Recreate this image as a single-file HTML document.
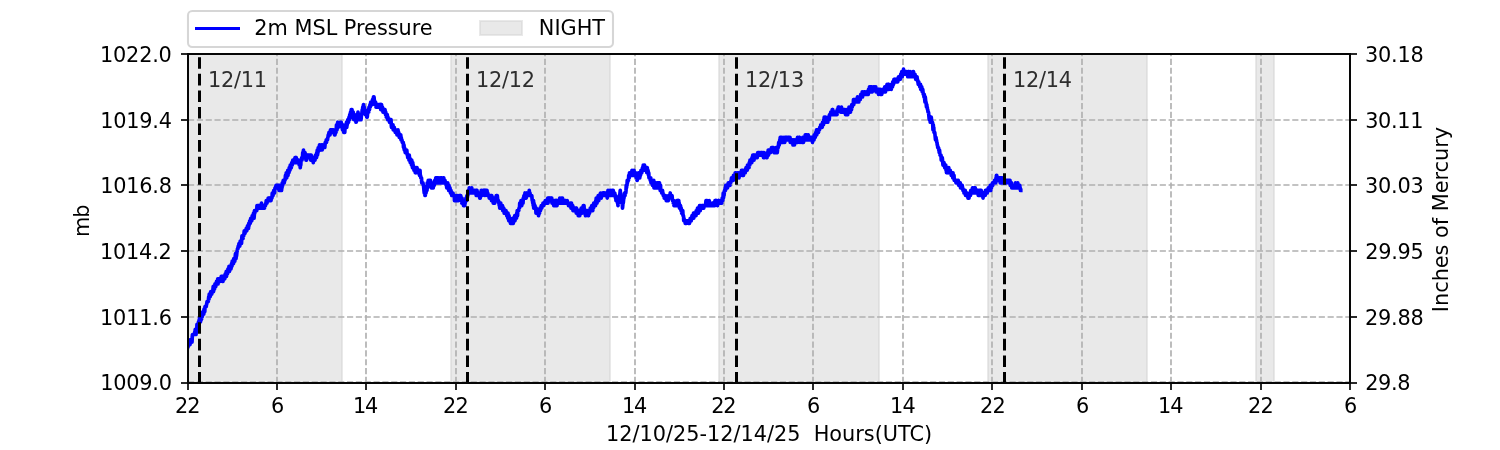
<!DOCTYPE html>
<html lang="en"><head><meta charset="utf-8"><title>2m MSL Pressure</title>
<style>html,body{margin:0;padding:0;background:#fff}body{width:1500px;height:450px;overflow:hidden}svg{display:block;will-change:transform}svg text{white-space:pre;font-family:"DejaVu Sans","Liberation Sans",sans-serif;font-size:20.833px}</style></head>
<body>
<svg width="1500" height="450" viewBox="0 0 1500 450" role="img" aria-label="2m MSL Pressure chart">
<defs><clipPath id="ax"><rect x="187.50" y="54.00" width="1162.50" height="328.50"/></clipPath></defs>
<rect width="1500" height="450" fill="#fff"/>
<g clip-path="url(#ax)">
<rect x="180" y="50" width="162" height="340" fill="#d3d3d3" fill-opacity="0.5"/>
<rect x="179" y="50" width="2" height="340" fill="#d3d3d3" fill-opacity="0.5"/>
<rect x="341" y="50" width="2" height="340" fill="#d3d3d3" fill-opacity="0.5"/>
<rect x="451" y="50" width="159" height="340" fill="#d3d3d3" fill-opacity="0.5"/>
<rect x="450" y="50" width="2" height="340" fill="#d3d3d3" fill-opacity="0.5"/>
<rect x="609" y="50" width="2" height="340" fill="#d3d3d3" fill-opacity="0.5"/>
<rect x="719" y="50" width="160" height="340" fill="#d3d3d3" fill-opacity="0.5"/>
<rect x="718" y="50" width="2" height="340" fill="#d3d3d3" fill-opacity="0.5"/>
<rect x="878" y="50" width="2" height="340" fill="#d3d3d3" fill-opacity="0.5"/>
<rect x="988" y="50" width="159" height="340" fill="#d3d3d3" fill-opacity="0.5"/>
<rect x="987" y="50" width="2" height="340" fill="#d3d3d3" fill-opacity="0.5"/>
<rect x="1146" y="50" width="2" height="340" fill="#d3d3d3" fill-opacity="0.5"/>
<rect x="1256" y="50" width="18" height="340" fill="#d3d3d3" fill-opacity="0.5"/>
<rect x="1255" y="50" width="2" height="340" fill="#d3d3d3" fill-opacity="0.5"/>
<rect x="1273" y="50" width="2" height="340" fill="#d3d3d3" fill-opacity="0.5"/>
</g>
<g stroke="#b0b0b0" stroke-width="1.667" stroke-dasharray="6.167 2.667" fill="none">
<path d="M188,383.0V54.0"/>
<path d="M277,383.0V54.0"/>
<path d="M366,383.0V54.0"/>
<path d="M456,383.0V54.0"/>
<path d="M545,383.0V54.0"/>
<path d="M635,383.0V54.0"/>
<path d="M724,383.0V54.0"/>
<path d="M813,383.0V54.0"/>
<path d="M903,383.0V54.0"/>
<path d="M992,383.0V54.0"/>
<path d="M1082,383.0V54.0"/>
<path d="M1171,383.0V54.0"/>
<path d="M1261,383.0V54.0"/>
<path d="M1350,383.0V54.0"/>
<path d="M188.0,382H1350.0"/>
<path d="M188.0,317H1350.0"/>
<path d="M188.0,251H1350.0"/>
<path d="M188.0,185H1350.0"/>
<path d="M188.0,120H1350.0"/>
<path d="M188.0,54H1350.0"/>
</g>
<g clip-path="url(#ax)"><path d="M187.50,347.12 187.75,344.60 188.00,347.12 188.25,344.60 188.75,344.60 189.00,342.07 189.75,342.07 190.00,344.60 190.25,342.07 190.50,339.54 190.75,342.07 191.25,342.07 191.50,339.54 191.75,342.07 192.00,342.07 192.25,337.02 192.50,334.49 194.50,334.49 194.75,331.96 195.00,331.96 195.25,329.43 195.50,331.96 195.75,331.96 196.00,334.49 196.25,331.96 196.50,331.96 196.75,329.43 197.00,324.38 197.25,329.43 197.50,329.43 197.75,324.38 198.00,326.91 198.25,326.91 198.50,321.85 198.75,324.38 199.00,321.85 199.25,319.33 199.50,319.33 199.75,316.80 200.00,319.33 200.25,321.85 200.50,321.85 200.75,316.80 201.00,316.80 201.25,319.33 201.50,319.33 201.75,316.80 202.25,316.80 202.50,314.27 202.75,311.75 203.00,314.27 203.25,311.75 203.50,311.75 203.75,314.27 204.00,309.22 204.50,309.22 204.75,311.75 205.00,306.69 206.25,306.69 206.50,304.17 206.75,304.17 207.00,301.64 208.25,301.64 208.50,299.11 208.75,296.58 209.00,299.11 209.25,294.06 209.75,294.06 210.00,296.58 210.25,296.58 210.50,294.06 210.75,291.53 211.50,291.53 211.75,294.06 212.00,291.53 212.75,291.53 213.00,289.00 213.25,286.48 213.50,291.53 213.75,289.00 214.50,289.00 214.75,286.48 215.00,283.95 215.25,286.48 215.50,283.95 215.75,286.48 216.00,283.95 216.25,283.95 216.50,281.42 216.75,283.95 217.00,281.42 217.25,281.42 217.50,283.95 217.75,278.90 218.00,283.95 218.25,281.42 218.50,278.90 218.75,281.42 219.00,281.42 219.25,278.90 219.75,278.90 220.00,281.42 220.25,278.90 221.00,278.90 221.25,276.37 221.50,278.90 222.25,278.90 222.50,281.42 222.75,276.37 223.00,281.42 223.25,276.37 223.50,278.90 223.75,276.37 224.00,278.90 224.25,276.37 224.50,278.90 224.75,278.90 225.00,276.37 225.25,273.84 225.50,276.37 225.75,273.84 226.00,273.84 226.25,271.32 226.50,276.37 226.75,271.32 227.25,271.32 227.50,273.84 227.75,271.32 228.00,268.79 228.25,268.79 228.50,271.32 228.75,271.32 229.00,266.26 229.25,268.79 229.50,271.32 229.75,268.79 230.25,268.79 230.50,266.26 230.75,266.26 231.00,268.79 231.25,266.26 231.50,263.73 231.75,266.26 232.00,266.26 232.25,261.21 232.50,263.73 232.75,263.73 233.00,261.21 233.25,263.73 233.50,263.73 233.75,258.68 234.00,258.68 234.25,261.21 234.50,258.68 234.75,261.21 235.00,258.68 235.25,256.15 235.50,253.63 235.75,256.15 236.00,258.68 236.25,256.15 236.50,256.15 236.75,253.63 237.00,251.10 237.25,251.10 237.50,248.57 238.00,248.57 238.25,246.05 238.75,246.05 239.00,243.52 239.25,246.05 239.50,243.52 239.75,246.05 240.00,243.52 240.25,240.99 241.25,240.99 241.50,243.52 241.75,238.47 242.00,235.94 242.25,238.47 242.50,235.94 242.75,235.94 243.00,238.47 243.25,235.94 243.75,235.94 244.00,233.41 244.25,230.88 244.50,233.41 244.75,230.88 245.00,233.41 245.25,230.88 246.00,230.88 246.25,228.36 246.50,230.88 246.75,230.88 247.00,228.36 247.25,228.36 247.50,225.83 247.75,228.36 248.00,228.36 248.25,225.83 248.50,228.36 248.75,223.30 249.00,225.83 249.25,223.30 249.50,223.30 249.75,220.78 250.00,223.30 250.25,223.30 250.50,220.78 250.75,218.25 251.00,218.25 251.25,220.78 251.75,220.78 252.00,218.25 252.25,215.72 252.75,215.72 253.00,218.25 253.25,215.72 253.50,213.20 253.75,218.25 254.00,218.25 254.25,215.72 254.50,210.67 254.75,213.20 255.00,210.67 256.75,210.67 257.00,205.62 257.25,205.62 257.50,208.14 257.75,208.14 258.00,205.62 258.50,205.62 258.75,208.14 259.00,205.62 259.50,205.62 259.75,208.14 260.00,205.62 260.25,208.14 260.50,205.62 261.00,205.62 261.25,208.14 261.50,203.09 261.75,205.62 262.50,205.62 262.75,208.14 263.00,208.14 263.25,205.62 263.50,208.14 263.75,208.14 264.00,205.62 264.25,208.14 264.50,208.14 264.75,205.62 265.50,205.62 265.75,203.09 266.00,203.09 266.25,200.56 266.50,203.09 266.75,200.56 267.00,203.09 267.25,200.56 268.00,200.56 268.25,198.03 268.50,200.56 268.75,200.56 269.00,198.03 269.25,200.56 269.50,198.03 269.75,198.03 270.00,200.56 270.25,198.03 270.50,200.56 271.00,200.56 271.25,198.03 272.00,198.03 272.25,192.98 272.75,192.98 273.00,195.51 273.25,192.98 273.50,192.98 273.75,190.45 274.00,190.45 274.25,192.98 274.50,192.98 274.75,190.45 275.00,187.93 275.75,187.93 276.00,185.40 276.50,185.40 276.75,187.93 277.00,187.93 277.25,185.40 277.50,187.93 277.75,187.93 278.00,185.40 278.25,185.40 278.50,187.93 278.75,185.40 279.00,190.45 279.25,187.93 279.50,185.40 279.75,185.40 280.00,187.93 280.25,190.45 280.50,187.93 280.75,190.45 281.00,190.45 281.25,185.40 281.50,190.45 281.75,187.93 282.00,187.93 282.25,182.87 282.50,182.87 282.75,185.40 283.00,182.87 283.25,180.35 283.50,182.87 283.75,182.87 284.00,180.35 284.25,182.87 284.50,180.35 285.00,180.35 285.25,177.82 285.50,175.29 285.75,177.82 286.00,177.82 286.25,172.77 286.50,177.82 286.75,177.82 287.00,175.29 287.50,175.29 287.75,170.24 288.00,175.29 288.25,170.24 288.50,170.24 288.75,172.77 289.00,172.77 289.25,167.71 289.50,167.71 289.75,170.24 290.00,170.24 290.25,165.18 291.00,165.18 291.25,167.71 291.50,165.18 291.75,162.66 292.00,165.18 292.25,165.18 292.50,162.66 292.75,160.13 293.00,160.13 293.25,162.66 293.50,162.66 293.75,160.13 294.00,162.66 294.50,162.66 294.75,160.13 295.00,157.60 295.25,157.60 295.50,160.13 295.75,157.60 296.00,160.13 296.25,157.60 296.50,160.13 296.75,162.66 298.00,162.66 298.25,160.13 298.75,160.13 299.00,162.66 299.25,165.18 299.50,165.18 299.75,162.66 300.00,165.18 300.25,167.71 300.50,162.66 300.75,165.18 301.00,160.13 301.50,160.13 301.75,157.60 302.00,160.13 302.25,157.60 302.50,157.60 302.75,152.55 303.00,157.60 303.25,152.55 303.50,150.02 303.75,155.08 304.00,152.55 304.25,152.55 304.50,155.08 304.75,152.55 305.00,152.55 305.25,155.08 305.75,155.08 306.00,160.13 306.25,155.08 306.50,160.13 306.75,155.08 307.00,155.08 307.25,157.60 307.50,155.08 307.75,157.60 308.00,157.60 308.25,155.08 308.50,155.08 308.75,157.60 309.00,155.08 309.50,155.08 309.75,157.60 310.00,157.60 310.25,155.08 310.50,155.08 310.75,160.13 311.00,155.08 311.25,155.08 311.50,157.60 311.75,157.60 312.00,160.13 312.25,157.60 312.50,160.13 312.75,157.60 313.00,160.13 313.25,162.66 313.50,157.60 313.75,157.60 314.00,160.13 314.50,160.13 314.75,157.60 315.00,160.13 315.25,157.60 315.50,155.08 315.75,157.60 316.50,157.60 316.75,152.55 317.00,155.08 317.25,150.02 317.50,155.08 317.75,152.55 318.00,152.55 318.25,147.50 318.50,147.50 318.75,150.02 319.00,150.02 319.25,147.50 319.50,144.97 320.00,144.97 320.25,147.50 320.75,147.50 321.00,150.02 321.25,144.97 321.50,144.97 321.75,147.50 322.00,150.02 322.25,150.02 322.50,144.97 322.75,144.97 323.00,147.50 323.50,147.50 323.75,144.97 324.00,144.97 324.25,147.50 324.50,144.97 324.75,147.50 325.00,144.97 325.25,142.44 326.00,142.44 326.25,139.92 326.50,142.44 326.75,139.92 327.50,139.92 327.75,137.39 328.00,137.39 328.25,134.86 328.75,134.86 329.00,132.33 329.25,134.86 329.50,132.33 329.75,132.33 330.00,134.86 330.25,132.33 330.50,129.81 330.75,132.33 331.00,129.81 331.25,132.33 331.50,129.81 331.75,129.81 332.00,132.33 332.25,129.81 332.50,132.33 333.00,132.33 333.25,129.81 333.50,129.81 333.75,132.33 334.25,132.33 334.50,134.86 334.75,129.81 335.00,134.86 335.25,132.33 335.50,132.33 335.75,129.81 336.00,132.33 336.25,129.81 336.50,124.75 336.75,124.75 337.00,129.81 337.25,124.75 337.50,124.75 337.75,122.23 338.00,127.28 338.25,127.28 338.50,124.75 339.75,124.75 340.00,122.23 340.75,122.23 341.00,124.75 341.25,122.23 341.50,124.75 341.75,127.28 342.00,124.75 342.25,127.28 342.50,129.81 342.75,127.28 343.00,124.75 343.25,129.81 343.50,129.81 343.75,132.33 344.00,129.81 344.50,129.81 344.75,132.33 345.00,127.28 345.50,127.28 345.75,124.75 346.25,124.75 346.50,122.23 346.75,127.28 347.00,124.75 347.25,124.75 347.50,122.23 347.75,119.70 348.25,119.70 348.50,122.23 348.75,119.70 349.00,117.17 349.25,119.70 349.50,119.70 349.75,114.65 350.00,117.17 350.25,117.17 350.50,112.12 350.75,112.12 351.00,117.17 351.25,109.59 351.50,112.12 351.75,114.65 352.00,109.59 352.25,114.65 352.50,112.12 352.75,112.12 353.00,117.17 353.25,112.12 353.50,114.65 353.75,119.70 354.00,117.17 354.25,119.70 354.50,114.65 354.75,117.17 355.00,119.70 355.25,117.17 355.50,117.17 355.75,119.70 356.00,122.23 356.25,122.23 356.50,117.17 357.25,117.17 357.50,114.65 357.75,117.17 358.00,112.12 358.25,114.65 358.75,114.65 359.00,117.17 359.25,119.70 359.50,117.17 360.00,117.17 360.25,114.65 360.50,114.65 360.75,117.17 361.00,119.70 361.25,117.17 361.50,114.65 361.75,114.65 362.00,112.12 362.25,109.59 362.50,112.12 362.75,107.07 363.00,109.59 363.25,107.07 363.50,104.54 363.75,107.07 364.25,107.07 364.50,112.12 364.75,109.59 365.00,112.12 365.25,114.65 365.75,114.65 366.00,112.12 366.25,114.65 366.50,114.65 366.75,117.17 367.00,114.65 367.25,117.17 367.50,114.65 367.75,112.12 368.00,112.12 368.25,109.59 368.50,112.12 368.75,112.12 369.00,107.07 369.25,107.07 369.50,109.59 369.75,107.07 370.00,104.54 370.25,107.07 370.50,104.54 370.75,102.01 371.00,102.01 371.25,104.54 371.75,104.54 372.00,102.01 372.25,104.54 372.50,99.48 372.75,102.01 373.00,99.48 373.25,99.48 373.50,96.96 374.00,96.96 374.25,99.48 374.50,102.01 375.00,102.01 375.25,104.54 375.50,102.01 375.75,104.54 376.00,107.07 376.25,104.54 376.50,104.54 376.75,107.07 377.00,107.07 377.25,104.54 377.50,104.54 377.75,107.07 378.00,104.54 378.25,104.54 378.50,107.07 378.75,107.07 379.00,104.54 379.50,104.54 379.75,107.07 380.00,104.54 380.25,107.07 380.50,104.54 380.75,109.59 381.00,104.54 381.25,107.07 381.50,104.54 381.75,107.07 382.00,109.59 382.25,107.07 382.50,107.07 382.75,109.59 383.00,112.12 383.25,109.59 383.75,109.59 384.00,112.12 384.25,112.12 384.50,109.59 384.75,112.12 385.00,109.59 385.25,112.12 385.50,114.65 385.75,112.12 386.00,114.65 386.25,117.17 386.50,114.65 386.75,114.65 387.00,117.17 387.25,114.65 387.50,117.17 387.75,119.70 388.00,117.17 388.25,119.70 389.25,119.70 389.50,122.23 389.75,119.70 390.00,122.23 390.25,122.23 390.50,119.70 390.75,122.23 391.00,119.70 391.25,124.75 391.50,127.28 391.75,124.75 392.00,124.75 392.25,127.28 392.50,124.75 392.75,127.28 393.00,124.75 393.25,129.81 394.00,129.81 394.25,127.28 394.50,129.81 395.00,129.81 395.25,132.33 395.50,129.81 396.00,129.81 396.25,132.33 396.75,132.33 397.00,134.86 397.25,132.33 397.75,132.33 398.00,129.81 398.25,132.33 398.75,132.33 399.00,134.86 399.25,137.39 399.50,134.86 400.75,134.86 401.00,139.92 401.25,137.39 401.50,139.92 402.00,139.92 402.25,142.44 403.25,142.44 403.50,147.50 403.75,144.97 404.00,144.97 404.25,150.02 404.50,147.50 404.75,150.02 405.00,150.02 405.25,152.55 405.50,150.02 406.75,150.02 407.00,152.55 407.25,155.08 407.50,155.08 407.75,157.60 408.00,155.08 408.25,157.60 408.50,155.08 408.75,155.08 409.00,160.13 409.25,155.08 409.50,160.13 409.75,157.60 410.00,160.13 410.25,162.66 410.50,160.13 410.75,162.66 411.00,162.66 411.25,160.13 411.50,165.18 411.75,160.13 412.00,162.66 412.25,165.18 412.50,167.71 412.75,162.66 413.00,167.71 413.25,165.18 413.50,167.71 413.75,167.71 414.00,170.24 414.25,167.71 414.50,170.24 414.75,167.71 415.00,167.71 415.25,172.77 415.50,170.24 415.75,172.77 416.00,167.71 416.25,172.77 416.75,172.77 417.00,167.71 417.25,170.24 417.75,170.24 418.00,172.77 418.25,172.77 418.50,170.24 418.75,172.77 419.00,170.24 419.25,170.24 419.50,175.29 419.75,170.24 420.00,170.24 420.25,175.29 420.50,175.29 420.75,177.82 421.50,177.82 421.75,182.87 423.00,182.87 423.25,185.40 423.50,185.40 423.75,187.93 424.00,190.45 424.25,192.98 424.50,190.45 424.75,192.98 425.00,195.51 425.25,195.51 425.50,192.98 426.00,192.98 426.25,190.45 427.00,190.45 427.25,182.87 427.50,187.93 427.75,182.87 428.00,185.40 428.25,180.35 428.50,182.87 429.25,182.87 429.50,180.35 429.75,182.87 430.00,185.40 430.25,180.35 430.50,180.35 430.75,182.87 431.00,185.40 431.25,187.93 431.50,187.93 431.75,185.40 432.00,187.93 432.25,182.87 432.50,185.40 432.75,187.93 433.00,185.40 433.25,187.93 433.50,182.87 433.75,185.40 434.00,182.87 434.25,185.40 434.50,182.87 434.75,180.35 435.00,182.87 435.25,182.87 435.50,180.35 435.75,177.82 436.00,180.35 436.25,177.82 436.75,177.82 437.00,182.87 437.25,177.82 437.50,180.35 437.75,180.35 438.00,177.82 438.25,182.87 438.50,180.35 438.75,180.35 439.00,177.82 439.25,177.82 439.50,180.35 439.75,180.35 440.00,182.87 440.25,180.35 440.50,177.82 441.00,177.82 441.25,180.35 441.50,177.82 442.00,177.82 442.25,182.87 442.50,180.35 442.75,180.35 443.00,182.87 443.25,177.82 443.50,182.87 443.75,177.82 444.00,182.87 444.75,182.87 445.00,180.35 445.25,182.87 446.00,182.87 446.25,185.40 446.50,185.40 446.75,187.93 447.00,185.40 447.25,185.40 447.50,187.93 447.75,182.87 448.00,185.40 448.25,187.93 448.50,187.93 448.75,190.45 449.00,185.40 449.25,187.93 449.50,187.93 449.75,190.45 450.00,187.93 450.25,190.45 450.50,192.98 450.75,190.45 451.00,190.45 451.25,192.98 451.50,192.98 451.75,195.51 452.00,192.98 452.25,192.98 452.50,195.51 452.75,192.98 453.00,192.98 453.25,195.51 454.25,195.51 454.50,200.56 454.75,198.03 455.00,200.56 455.25,198.03 455.50,200.56 455.75,198.03 456.00,195.51 456.25,195.51 456.50,200.56 456.75,198.03 457.00,200.56 457.25,195.51 457.50,200.56 457.75,200.56 458.00,198.03 458.25,200.56 458.50,198.03 458.75,198.03 459.00,195.51 459.25,195.51 459.50,198.03 459.75,198.03 460.00,195.51 460.25,198.03 460.50,195.51 460.75,195.51 461.00,200.56 461.25,200.56 461.50,198.03 461.75,203.09 462.00,198.03 462.25,200.56 462.75,200.56 463.00,203.09 463.25,203.09 463.50,205.62 463.75,205.62 464.00,203.09 464.25,205.62 464.75,205.62 465.00,203.09 465.25,203.09 465.50,200.56 465.75,200.56 466.00,198.03 466.25,198.03 466.50,200.56 466.75,198.03 467.00,195.51 467.25,198.03 467.50,195.51 467.75,195.51 468.00,192.98 468.25,192.98 468.50,190.45 468.75,192.98 469.00,192.98 469.25,187.93 469.50,187.93 469.75,190.45 470.00,190.45 470.25,192.98 470.50,190.45 471.00,190.45 471.25,192.98 471.50,192.98 471.75,187.93 472.00,190.45 472.25,192.98 472.50,190.45 472.75,190.45 473.00,192.98 473.25,190.45 473.50,192.98 474.00,192.98 474.25,190.45 474.50,190.45 474.75,192.98 475.00,192.98 475.25,190.45 475.50,192.98 476.00,192.98 476.25,195.51 476.50,190.45 476.75,192.98 477.00,190.45 477.25,192.98 477.50,192.98 477.75,195.51 478.25,195.51 478.50,192.98 479.00,192.98 479.25,195.51 479.50,195.51 479.75,198.03 480.00,192.98 480.25,198.03 480.50,195.51 480.75,192.98 481.00,195.51 481.25,190.45 481.50,190.45 481.75,195.51 482.00,195.51 482.25,192.98 483.00,192.98 483.25,190.45 483.50,190.45 483.75,192.98 484.00,190.45 484.25,192.98 484.50,190.45 484.75,192.98 485.00,195.51 485.25,190.45 485.50,192.98 485.75,190.45 487.00,190.45 487.25,192.98 487.50,195.51 487.75,192.98 488.00,195.51 489.00,195.51 489.25,198.03 489.75,198.03 490.00,195.51 490.25,198.03 490.75,198.03 491.00,195.51 491.25,198.03 491.50,200.56 491.75,195.51 492.00,198.03 492.25,198.03 492.50,200.56 492.75,200.56 493.00,198.03 493.25,203.09 493.50,198.03 493.75,203.09 494.00,198.03 494.25,200.56 494.50,200.56 494.75,203.09 495.00,200.56 496.00,200.56 496.25,195.51 496.50,195.51 496.75,198.03 497.00,195.51 497.25,195.51 497.50,198.03 497.75,200.56 498.50,200.56 498.75,203.09 499.00,203.09 499.25,205.62 499.50,203.09 499.75,208.14 500.00,203.09 500.25,205.62 500.50,205.62 500.75,203.09 501.00,208.14 501.50,208.14 501.75,205.62 502.00,208.14 502.25,205.62 502.50,205.62 502.75,210.67 503.00,208.14 503.25,210.67 503.50,208.14 503.75,208.14 504.00,210.67 504.25,213.20 504.50,210.67 505.00,210.67 505.25,213.20 505.50,210.67 505.75,213.20 506.00,210.67 506.25,213.20 506.50,213.20 506.75,215.72 507.00,213.20 507.25,215.72 507.50,213.20 507.75,218.25 508.00,213.20 508.25,218.25 508.50,215.72 508.75,220.78 509.00,215.72 509.25,218.25 509.50,218.25 509.75,220.78 510.25,220.78 510.50,223.30 510.75,220.78 511.00,223.30 512.00,223.30 512.25,220.78 512.50,218.25 512.75,220.78 513.00,220.78 513.25,223.30 513.50,218.25 514.50,218.25 514.75,215.72 515.00,220.78 515.25,215.72 515.75,215.72 516.00,218.25 516.50,218.25 516.75,213.20 517.00,215.72 517.25,210.67 517.50,215.72 517.75,210.67 518.75,210.67 519.00,208.14 519.50,208.14 519.75,203.09 520.00,205.62 520.25,203.09 520.50,203.09 520.75,205.62 521.00,200.56 521.25,203.09 521.50,203.09 521.75,205.62 522.00,203.09 522.25,203.09 522.50,200.56 522.75,200.56 523.00,203.09 523.25,198.03 523.75,198.03 524.00,195.51 524.25,198.03 524.50,198.03 524.75,195.51 525.00,192.98 525.25,198.03 525.50,195.51 525.75,198.03 526.00,192.98 526.25,198.03 526.50,192.98 526.75,195.51 527.00,192.98 527.50,192.98 527.75,195.51 528.00,192.98 528.25,195.51 529.00,195.51 529.25,190.45 529.50,192.98 529.75,195.51 530.00,192.98 530.25,195.51 531.75,195.51 532.00,198.03 532.25,200.56 532.50,200.56 532.75,203.09 533.00,200.56 533.25,205.62 533.50,200.56 533.75,208.14 534.00,203.09 534.25,205.62 534.50,205.62 534.75,208.14 535.00,205.62 535.25,208.14 535.75,208.14 536.00,213.20 536.25,208.14 536.50,210.67 537.00,210.67 537.25,213.20 537.50,210.67 537.75,210.67 538.00,213.20 538.25,210.67 538.50,215.72 538.75,213.20 539.00,210.67 539.25,213.20 539.50,213.20 539.75,210.67 540.00,208.14 540.25,210.67 540.50,210.67 540.75,208.14 541.00,208.14 541.25,205.62 541.50,205.62 541.75,208.14 542.00,205.62 542.75,205.62 543.00,203.09 543.25,203.09 543.50,205.62 543.75,205.62 544.00,203.09 545.00,203.09 545.25,200.56 545.50,203.09 545.75,200.56 546.00,203.09 546.25,200.56 547.00,200.56 547.25,203.09 547.50,203.09 547.75,198.03 548.00,203.09 548.25,198.03 548.50,198.03 548.75,200.56 549.00,198.03 549.25,200.56 549.50,198.03 549.75,198.03 550.00,200.56 550.25,198.03 550.50,200.56 550.75,200.56 551.00,198.03 551.25,198.03 551.50,200.56 551.75,198.03 552.00,203.09 552.25,200.56 552.75,200.56 553.00,203.09 553.50,203.09 553.75,205.62 554.00,203.09 554.25,200.56 554.50,200.56 554.75,205.62 555.00,203.09 555.25,200.56 555.50,205.62 555.75,200.56 556.00,203.09 556.25,200.56 556.50,203.09 556.75,200.56 557.00,205.62 557.25,200.56 557.50,203.09 558.00,203.09 558.25,200.56 558.75,200.56 559.00,203.09 559.25,200.56 559.50,203.09 559.75,198.03 560.00,200.56 560.50,200.56 560.75,203.09 561.00,200.56 561.25,203.09 561.50,198.03 561.75,200.56 562.00,203.09 562.25,203.09 562.50,198.03 562.75,203.09 563.00,203.09 563.25,200.56 563.50,200.56 563.75,203.09 564.50,203.09 564.75,200.56 565.00,203.09 565.25,200.56 565.75,200.56 566.00,203.09 566.75,203.09 567.00,200.56 567.25,200.56 567.50,203.09 568.25,203.09 568.50,205.62 568.75,203.09 569.00,203.09 569.25,205.62 570.00,205.62 570.25,203.09 570.50,203.09 570.75,205.62 571.00,208.14 571.25,203.09 571.50,203.09 571.75,208.14 572.00,205.62 572.75,205.62 573.00,210.67 573.25,208.14 573.75,208.14 574.00,210.67 574.75,210.67 575.00,208.14 575.25,210.67 575.75,210.67 576.00,208.14 576.25,213.20 576.50,208.14 576.75,210.67 577.00,213.20 577.25,210.67 577.50,213.20 577.75,210.67 578.00,210.67 578.25,215.72 578.50,213.20 578.75,210.67 579.00,215.72 579.25,210.67 579.50,213.20 579.75,215.72 580.00,210.67 580.25,213.20 580.50,210.67 581.00,210.67 581.25,208.14 581.50,213.20 581.75,213.20 582.00,210.67 582.50,210.67 582.75,208.14 583.00,208.14 583.25,205.62 584.00,205.62 584.25,210.67 584.50,213.20 584.75,210.67 585.00,210.67 585.25,213.20 585.50,215.72 586.00,215.72 586.25,210.67 586.50,213.20 586.75,210.67 587.50,210.67 587.75,213.20 588.25,213.20 588.50,215.72 588.75,210.67 589.00,213.20 589.25,210.67 589.50,213.20 589.75,210.67 590.00,210.67 590.25,208.14 590.50,210.67 591.25,210.67 591.50,208.14 591.75,205.62 592.00,210.67 592.25,205.62 592.50,205.62 592.75,210.67 593.00,208.14 593.25,205.62 593.50,208.14 593.75,203.09 594.00,205.62 594.25,203.09 594.50,205.62 594.75,205.62 595.00,203.09 595.25,203.09 595.50,205.62 595.75,200.56 596.00,200.56 596.25,198.03 596.50,200.56 596.75,200.56 597.00,203.09 597.25,198.03 598.00,198.03 598.25,195.51 598.50,198.03 598.75,200.56 599.00,195.51 599.25,198.03 599.50,198.03 599.75,195.51 600.00,198.03 600.25,195.51 600.50,192.98 601.00,192.98 601.25,198.03 601.50,195.51 602.75,195.51 603.00,192.98 603.25,195.51 603.50,192.98 603.75,195.51 604.25,195.51 604.50,192.98 604.75,195.51 605.00,192.98 605.25,192.98 605.50,195.51 606.25,195.51 606.50,192.98 606.75,195.51 607.00,192.98 607.25,198.03 607.50,192.98 607.75,195.51 608.00,190.45 608.25,195.51 608.50,192.98 608.75,195.51 609.75,195.51 610.00,190.45 610.25,190.45 610.50,195.51 610.75,192.98 611.00,195.51 611.25,195.51 611.50,192.98 611.75,192.98 612.00,190.45 612.25,190.45 612.50,195.51 612.75,192.98 613.00,190.45 613.25,190.45 613.50,192.98 614.75,192.98 615.00,195.51 615.25,195.51 615.50,198.03 615.75,195.51 616.00,200.56 616.25,198.03 616.50,198.03 616.75,200.56 617.00,198.03 617.25,200.56 617.50,203.09 617.75,203.09 618.00,205.62 618.25,203.09 618.75,203.09 619.00,198.03 619.25,198.03 619.50,195.51 619.75,195.51 620.00,192.98 620.25,190.45 620.50,195.51 620.75,192.98 621.00,198.03 621.50,198.03 621.75,203.09 622.00,198.03 622.25,200.56 622.50,208.14 622.75,205.62 623.00,200.56 623.25,203.09 623.50,200.56 623.75,198.03 624.00,198.03 624.25,195.51 624.50,195.51 624.75,192.98 625.00,195.51 625.25,192.98 625.75,192.98 626.00,190.45 626.25,185.40 626.50,187.93 626.75,185.40 627.00,185.40 627.25,180.35 627.50,182.87 627.75,180.35 628.50,180.35 628.75,175.29 629.00,175.29 629.25,177.82 629.50,172.77 629.75,175.29 630.00,175.29 630.25,172.77 630.75,172.77 631.00,175.29 631.25,175.29 631.50,172.77 631.75,172.77 632.00,170.24 632.25,172.77 632.50,175.29 633.25,175.29 633.50,172.77 633.75,172.77 634.00,170.24 634.25,175.29 634.50,172.77 634.75,175.29 635.00,175.29 635.25,172.77 635.50,175.29 635.75,172.77 636.00,175.29 636.25,177.82 636.75,177.82 637.00,180.35 637.25,180.35 637.50,175.29 638.00,175.29 638.25,177.82 638.50,172.77 638.75,177.82 639.00,177.82 639.25,175.29 639.50,175.29 639.75,177.82 640.00,172.77 640.25,172.77 640.50,175.29 640.75,172.77 641.00,170.24 641.25,172.77 641.50,170.24 641.75,172.77 642.00,170.24 642.25,170.24 642.50,167.71 642.75,170.24 643.00,170.24 643.25,165.18 643.50,170.24 643.75,167.71 644.25,167.71 644.50,165.18 644.75,170.24 645.25,170.24 645.50,167.71 645.75,170.24 646.00,167.71 646.25,170.24 646.50,167.71 646.75,172.77 647.00,167.71 647.25,167.71 647.50,170.24 647.75,172.77 648.00,170.24 648.25,172.77 648.50,175.29 648.75,172.77 649.00,177.82 650.00,177.82 650.25,180.35 650.50,177.82 650.75,177.82 651.00,182.87 651.25,180.35 651.50,182.87 651.75,180.35 652.00,182.87 652.25,182.87 652.50,185.40 652.75,182.87 653.25,182.87 653.50,185.40 653.75,180.35 654.00,187.93 654.25,185.40 654.50,185.40 654.75,187.93 655.00,187.93 655.25,185.40 655.50,182.87 655.75,182.87 656.00,185.40 656.25,185.40 656.50,187.93 656.75,182.87 657.25,182.87 657.50,185.40 657.75,185.40 658.00,182.87 658.25,187.93 658.50,182.87 659.00,182.87 659.25,187.93 659.50,182.87 659.75,185.40 660.00,187.93 660.25,190.45 660.50,185.40 660.75,190.45 661.50,190.45 661.75,192.98 662.00,192.98 662.25,190.45 662.50,190.45 662.75,192.98 663.00,192.98 663.25,195.51 664.00,195.51 664.25,198.03 664.50,195.51 664.75,198.03 665.25,198.03 665.50,195.51 665.75,198.03 666.00,198.03 666.25,200.56 666.50,198.03 666.75,200.56 667.00,200.56 667.25,198.03 667.50,198.03 667.75,200.56 668.00,198.03 668.25,200.56 668.50,195.51 670.00,195.51 670.25,192.98 670.50,195.51 670.75,195.51 671.00,198.03 671.25,195.51 672.00,195.51 672.25,198.03 672.50,200.56 673.00,200.56 673.25,203.09 673.50,200.56 673.75,200.56 674.00,205.62 674.25,203.09 674.50,205.62 674.75,203.09 675.00,203.09 675.25,205.62 675.50,203.09 675.75,205.62 676.00,205.62 676.25,203.09 676.50,203.09 676.75,200.56 677.25,200.56 677.50,203.09 677.75,200.56 678.00,205.62 678.25,200.56 678.50,203.09 678.75,200.56 679.00,205.62 679.25,203.09 679.50,208.14 679.75,205.62 680.00,205.62 680.25,208.14 680.50,205.62 680.75,208.14 681.00,210.67 681.25,208.14 681.50,210.67 681.75,213.20 682.00,210.67 682.75,210.67 683.00,215.72 683.50,215.72 683.75,220.78 684.00,218.25 684.25,220.78 685.00,220.78 685.25,223.30 685.50,220.78 685.75,223.30 686.00,220.78 686.25,223.30 686.50,220.78 688.25,220.78 688.50,223.30 688.75,220.78 689.00,223.30 689.50,223.30 689.75,220.78 690.00,220.78 690.25,218.25 690.50,218.25 690.75,220.78 691.25,220.78 691.50,218.25 691.75,218.25 692.00,215.72 692.25,218.25 692.50,215.72 693.25,215.72 693.50,213.20 693.75,218.25 694.00,213.20 694.75,213.20 695.00,215.72 695.25,213.20 695.75,213.20 696.00,215.72 696.25,210.67 696.50,210.67 696.75,213.20 697.00,210.67 697.25,210.67 697.50,208.14 697.75,210.67 698.00,208.14 698.25,208.14 698.50,213.20 698.75,208.14 699.25,208.14 699.50,205.62 699.75,210.67 700.00,208.14 700.25,210.67 700.50,205.62 700.75,205.62 701.00,208.14 701.50,208.14 701.75,205.62 702.00,205.62 702.25,208.14 702.50,205.62 702.75,208.14 703.00,208.14 703.25,205.62 703.50,205.62 703.75,208.14 704.00,205.62 705.50,205.62 705.75,203.09 706.00,200.56 706.25,203.09 706.50,205.62 706.75,200.56 707.25,200.56 707.50,203.09 707.75,205.62 708.00,203.09 708.25,203.09 708.50,205.62 708.75,203.09 709.00,205.62 709.25,200.56 709.50,203.09 709.75,203.09 710.00,205.62 710.25,203.09 710.50,203.09 710.75,205.62 712.00,205.62 712.25,203.09 712.50,203.09 712.75,205.62 713.00,203.09 713.25,205.62 713.50,203.09 713.75,205.62 714.00,203.09 714.25,205.62 714.75,205.62 715.00,200.56 715.25,203.09 715.50,200.56 715.75,203.09 716.00,200.56 716.25,203.09 716.50,200.56 716.75,203.09 717.25,203.09 717.50,205.62 717.75,203.09 718.00,200.56 718.25,203.09 718.50,200.56 718.75,203.09 719.00,200.56 719.25,203.09 720.25,203.09 720.50,200.56 720.75,203.09 721.25,203.09 721.50,200.56 721.75,203.09 722.00,200.56 722.25,198.03 722.50,200.56 722.75,200.56 723.00,198.03 723.25,192.98 723.50,198.03 723.75,192.98 724.00,195.51 724.25,192.98 724.50,190.45 725.00,190.45 725.25,187.93 725.50,190.45 725.75,185.40 726.00,187.93 726.25,185.40 727.25,185.40 727.50,187.93 727.75,185.40 728.00,185.40 728.25,182.87 729.25,182.87 729.50,185.40 730.00,185.40 730.25,182.87 730.75,182.87 731.00,180.35 731.25,180.35 731.50,177.82 732.25,177.82 732.50,180.35 732.75,177.82 733.00,180.35 733.25,180.35 733.50,175.29 733.75,177.82 734.00,175.29 734.25,177.82 734.50,177.82 734.75,175.29 735.00,175.29 735.25,172.77 735.50,175.29 735.75,172.77 736.00,175.29 736.25,177.82 736.50,175.29 736.75,175.29 737.00,172.77 737.50,172.77 737.75,175.29 738.25,175.29 738.50,172.77 738.75,175.29 739.00,177.82 739.25,175.29 739.50,172.77 741.25,172.77 741.50,170.24 741.75,170.24 742.00,175.29 742.25,175.29 742.50,170.24 742.75,172.77 743.00,175.29 743.25,170.24 743.50,175.29 743.75,172.77 745.25,172.77 745.50,170.24 745.75,170.24 746.00,167.71 747.00,167.71 747.25,170.24 747.50,165.18 747.75,167.71 748.00,167.71 748.25,165.18 748.50,167.71 748.75,165.18 749.00,167.71 749.25,162.66 749.50,162.66 749.75,165.18 750.00,160.13 750.25,162.66 750.50,160.13 751.50,160.13 751.75,162.66 752.00,157.60 752.25,160.13 752.50,160.13 752.75,155.08 753.25,155.08 753.50,157.60 753.75,155.08 754.00,160.13 754.25,155.08 755.00,155.08 755.25,157.60 755.50,157.60 755.75,155.08 756.00,157.60 756.25,157.60 756.50,155.08 756.75,157.60 757.00,155.08 757.25,157.60 757.50,155.08 757.75,152.55 758.75,152.55 759.00,155.08 759.25,152.55 759.50,155.08 760.50,155.08 760.75,152.55 761.00,155.08 761.25,152.55 762.25,152.55 762.50,155.08 763.25,155.08 763.50,157.60 763.75,152.55 764.00,152.55 764.25,157.60 764.50,157.60 764.75,155.08 766.25,155.08 766.50,157.60 766.75,155.08 767.00,157.60 767.25,152.55 767.50,155.08 767.75,155.08 768.00,152.55 768.25,150.02 768.50,155.08 768.75,152.55 769.00,150.02 769.25,150.02 769.50,152.55 769.75,152.55 770.00,150.02 770.25,152.55 770.50,152.55 770.75,150.02 771.25,150.02 771.50,147.50 771.75,147.50 772.00,150.02 772.25,150.02 772.50,147.50 772.75,150.02 773.00,147.50 773.50,147.50 773.75,150.02 774.00,152.55 774.25,150.02 774.50,150.02 774.75,152.55 775.75,152.55 776.00,147.50 776.50,147.50 776.75,150.02 777.00,150.02 777.25,152.55 777.50,150.02 777.75,147.50 778.25,147.50 778.50,144.97 778.75,142.44 779.00,142.44 779.25,144.97 779.50,142.44 779.75,139.92 780.00,139.92 780.25,137.39 780.50,139.92 780.75,139.92 781.00,142.44 781.25,139.92 781.50,139.92 781.75,137.39 782.00,137.39 782.25,142.44 782.50,142.44 782.75,139.92 783.00,139.92 783.25,142.44 783.50,139.92 783.75,139.92 784.00,137.39 784.25,139.92 784.50,139.92 784.75,142.44 785.00,139.92 785.25,137.39 785.50,139.92 785.75,139.92 786.00,137.39 786.25,137.39 786.50,139.92 786.75,137.39 787.00,137.39 787.25,139.92 787.50,139.92 787.75,137.39 788.25,137.39 788.50,139.92 788.75,137.39 789.00,137.39 789.25,139.92 789.50,139.92 789.75,137.39 790.00,137.39 790.25,142.44 790.50,139.92 790.75,139.92 791.00,142.44 791.25,139.92 791.50,139.92 791.75,142.44 792.00,142.44 792.25,139.92 792.50,139.92 792.75,142.44 793.00,144.97 793.25,142.44 793.50,139.92 793.75,139.92 794.00,144.97 794.25,142.44 794.50,144.97 794.75,139.92 795.00,139.92 795.25,142.44 796.00,142.44 796.25,139.92 796.50,142.44 797.00,142.44 797.25,139.92 797.50,137.39 797.75,142.44 798.00,139.92 798.75,139.92 799.00,137.39 799.25,139.92 799.50,137.39 799.75,139.92 800.00,142.44 800.25,139.92 801.75,139.92 802.00,142.44 802.25,139.92 802.50,142.44 802.75,137.39 803.00,142.44 803.50,142.44 803.75,139.92 804.00,139.92 804.25,137.39 804.50,139.92 804.75,139.92 805.00,137.39 805.25,134.86 805.50,139.92 805.75,134.86 806.00,137.39 806.25,137.39 806.50,134.86 806.75,139.92 807.00,139.92 807.25,137.39 808.00,137.39 808.25,134.86 808.50,137.39 808.75,139.92 809.00,137.39 809.25,139.92 810.25,139.92 810.50,137.39 810.75,137.39 811.00,139.92 811.25,139.92 811.50,137.39 811.75,139.92 812.00,139.92 812.25,137.39 812.50,142.44 812.75,139.92 813.00,139.92 813.25,137.39 813.50,139.92 813.75,137.39 814.00,139.92 814.25,134.86 814.50,137.39 815.25,137.39 815.50,134.86 815.75,132.33 816.25,132.33 816.50,129.81 816.75,134.86 817.00,132.33 817.25,129.81 818.25,129.81 818.50,132.33 818.75,129.81 819.50,129.81 819.75,127.28 820.50,127.28 820.75,124.75 821.00,127.28 821.25,124.75 821.50,127.28 821.75,124.75 822.00,127.28 822.25,127.28 822.50,122.23 823.25,122.23 823.50,124.75 823.75,119.70 824.00,119.70 824.25,117.17 824.50,122.23 825.00,122.23 825.25,119.70 825.50,117.17 825.75,119.70 826.00,119.70 826.25,122.23 826.50,122.23 826.75,119.70 827.00,122.23 827.25,122.23 827.50,119.70 827.75,122.23 828.00,119.70 828.25,117.17 828.50,117.17 828.75,119.70 829.00,117.17 829.25,119.70 829.50,114.65 830.50,114.65 830.75,112.12 831.00,114.65 831.25,112.12 831.50,114.65 831.75,112.12 832.00,114.65 832.25,109.59 832.50,112.12 832.75,109.59 833.00,114.65 833.25,112.12 834.00,112.12 834.25,114.65 834.50,112.12 834.75,114.65 835.00,114.65 835.25,112.12 836.00,112.12 836.25,114.65 837.00,114.65 837.25,109.59 837.50,109.59 837.75,112.12 838.00,109.59 838.25,107.07 838.50,109.59 838.75,109.59 839.00,107.07 839.25,109.59 840.50,109.59 840.75,112.12 841.00,109.59 841.25,109.59 841.50,107.07 841.75,109.59 842.00,112.12 842.25,109.59 843.25,109.59 843.50,112.12 843.75,109.59 844.00,109.59 844.25,112.12 844.50,109.59 845.00,109.59 845.25,112.12 845.50,114.65 846.00,114.65 846.25,109.59 846.50,112.12 846.75,114.65 847.00,112.12 847.25,114.65 847.50,112.12 847.75,114.65 848.00,112.12 848.25,112.12 848.50,109.59 848.75,112.12 849.00,107.07 849.25,107.07 849.50,109.59 850.00,109.59 850.25,107.07 850.50,112.12 850.75,109.59 851.00,109.59 851.25,107.07 851.50,109.59 851.75,104.54 852.00,104.54 852.25,107.07 852.50,104.54 853.25,104.54 853.50,99.48 853.75,104.54 854.00,99.48 854.50,99.48 854.75,102.01 855.00,99.48 855.50,99.48 855.75,102.01 856.00,99.48 856.25,99.48 856.50,102.01 856.75,99.48 857.25,99.48 857.50,96.96 857.75,102.01 858.00,99.48 858.25,102.01 858.50,99.48 858.75,102.01 859.00,99.48 859.25,99.48 859.50,96.96 860.00,96.96 860.25,99.48 860.50,96.96 860.75,94.43 861.00,96.96 861.25,94.43 861.50,96.96 861.75,94.43 862.00,96.96 862.25,91.90 862.50,96.96 862.75,94.43 863.75,94.43 864.00,91.90 864.75,91.90 865.00,94.43 865.75,94.43 866.00,91.90 866.25,94.43 866.50,94.43 866.75,91.90 867.00,94.43 867.25,91.90 868.00,91.90 868.25,94.43 868.50,89.38 869.00,89.38 869.25,91.90 869.50,86.85 869.75,86.85 870.00,89.38 870.25,89.38 870.50,86.85 870.75,91.90 871.00,89.38 871.25,86.85 871.75,86.85 872.00,89.38 872.25,91.90 872.50,89.38 872.75,89.38 873.00,86.85 873.50,86.85 873.75,89.38 874.25,89.38 874.50,86.85 874.75,89.38 875.50,89.38 875.75,86.85 876.00,91.90 876.25,89.38 876.50,91.90 877.75,91.90 878.00,89.38 878.25,89.38 878.50,94.43 878.75,89.38 879.00,91.90 879.25,89.38 879.50,91.90 880.00,91.90 880.25,94.43 880.50,89.38 880.75,94.43 881.00,91.90 881.25,94.43 881.50,91.90 881.75,94.43 882.00,91.90 882.50,91.90 882.75,89.38 883.00,91.90 883.50,91.90 883.75,89.38 884.00,91.90 884.25,89.38 884.50,91.90 884.75,86.85 885.00,91.90 885.25,89.38 885.50,91.90 885.75,86.85 886.00,89.38 886.25,89.38 886.50,86.85 886.75,86.85 887.00,84.32 887.25,84.32 887.50,89.38 887.75,89.38 888.00,86.85 888.25,84.32 888.50,89.38 888.75,84.32 889.00,89.38 889.25,86.85 891.00,86.85 891.25,89.38 891.50,84.32 891.75,86.85 892.50,86.85 892.75,81.80 893.00,84.32 893.25,81.80 893.50,84.32 893.75,81.80 894.00,79.27 894.25,81.80 894.50,79.27 894.75,81.80 895.00,81.80 895.25,79.27 895.50,81.80 895.75,81.80 896.00,79.27 896.25,81.80 896.50,79.27 896.75,81.80 897.00,79.27 897.25,81.80 897.75,81.80 898.00,79.27 898.25,79.27 898.50,76.74 899.25,76.74 899.50,79.27 899.75,79.27 900.00,76.74 900.25,79.27 900.50,76.74 900.75,74.22 901.00,76.74 901.25,76.74 901.50,74.22 901.75,71.69 902.00,74.22 902.25,76.74 902.50,71.69 903.25,71.69 903.50,69.16 903.75,74.22 904.00,71.69 904.50,71.69 904.75,74.22 905.00,71.69 905.25,74.22 905.50,71.69 905.75,74.22 906.00,74.22 906.25,71.69 906.50,71.69 906.75,74.22 907.50,74.22 907.75,76.74 908.00,71.69 908.25,76.74 908.50,71.69 908.75,74.22 909.25,74.22 909.50,76.74 909.75,74.22 910.00,71.69 910.25,74.22 910.50,76.74 910.75,74.22 911.00,76.74 911.25,74.22 911.50,74.22 911.75,76.74 912.00,74.22 912.25,74.22 912.50,76.74 912.75,76.74 913.00,71.69 913.50,71.69 913.75,74.22 914.00,74.22 914.25,76.74 914.75,76.74 915.00,74.22 915.25,76.74 915.50,76.74 915.75,79.27 916.00,76.74 916.25,79.27 916.75,79.27 917.00,76.74 917.25,79.27 917.50,79.27 917.75,81.80 918.00,81.80 918.25,84.32 918.50,84.32 918.75,81.80 919.00,84.32 919.50,84.32 919.75,86.85 920.25,86.85 920.50,84.32 920.75,89.38 921.00,86.85 921.25,89.38 921.50,89.38 921.75,86.85 922.00,89.38 922.25,91.90 922.50,91.90 922.75,89.38 923.00,91.90 923.25,94.43 923.75,94.43 924.00,96.96 924.25,94.43 924.50,96.96 924.75,99.48 925.00,102.01 925.25,96.96 925.50,99.48 925.75,102.01 926.00,102.01 926.25,104.54 926.50,107.07 926.75,104.54 927.00,107.07 927.25,107.07 927.50,109.59 927.75,109.59 928.00,112.12 928.50,112.12 928.75,114.65 929.00,117.17 929.25,119.70 929.50,119.70 929.75,117.17 930.00,119.70 930.25,122.23 930.50,119.70 930.75,117.17 931.25,117.17 931.50,119.70 931.75,122.23 932.50,122.23 932.75,124.75 933.00,129.81 933.25,124.75 933.50,127.28 933.75,127.28 934.00,132.33 934.75,132.33 935.00,134.86 935.25,137.39 935.50,139.92 935.75,137.39 936.00,137.39 936.25,139.92 936.50,139.92 936.75,142.44 937.00,142.44 937.25,144.97 937.50,144.97 937.75,147.50 938.50,147.50 938.75,150.02 939.00,150.02 939.25,152.55 939.50,150.02 939.75,152.55 940.00,155.08 941.00,155.08 941.25,160.13 941.50,157.60 942.25,157.60 942.50,160.13 942.75,162.66 943.00,165.18 943.25,162.66 943.50,162.66 943.75,165.18 944.00,162.66 944.25,165.18 944.50,165.18 944.75,167.71 945.00,167.71 945.25,165.18 945.50,167.71 945.75,165.18 946.00,170.24 946.25,167.71 946.50,172.77 946.75,167.71 947.00,170.24 947.25,172.77 947.50,170.24 948.25,170.24 948.50,172.77 948.75,167.71 949.00,172.77 949.25,170.24 949.75,170.24 950.00,172.77 950.25,170.24 950.50,172.77 951.00,172.77 951.25,175.29 951.50,172.77 951.75,172.77 952.00,175.29 952.25,172.77 952.50,172.77 952.75,177.82 953.00,172.77 953.25,177.82 953.75,177.82 954.00,175.29 954.25,180.35 955.75,180.35 956.00,182.87 956.25,180.35 956.75,180.35 957.00,182.87 958.00,182.87 958.25,180.35 958.50,182.87 958.75,185.40 959.00,185.40 959.25,182.87 959.50,185.40 959.75,182.87 960.00,185.40 960.25,182.87 960.50,187.93 960.75,185.40 961.00,185.40 961.25,187.93 961.50,185.40 961.75,187.93 962.00,187.93 962.25,185.40 962.50,187.93 962.75,187.93 963.00,190.45 963.75,190.45 964.00,192.98 964.50,192.98 964.75,190.45 965.25,190.45 965.50,195.51 965.75,195.51 966.00,192.98 966.25,192.98 966.50,195.51 966.75,195.51 967.00,192.98 967.50,192.98 967.75,195.51 968.00,198.03 968.25,195.51 968.50,198.03 969.00,198.03 969.25,195.51 969.75,195.51 970.00,192.98 970.25,192.98 970.50,195.51 970.75,190.45 971.25,190.45 971.50,192.98 971.75,190.45 972.25,190.45 972.50,187.93 972.75,192.98 973.00,187.93 973.25,187.93 973.50,190.45 974.00,190.45 974.25,192.98 974.50,187.93 974.75,190.45 975.00,190.45 975.25,187.93 975.50,192.98 976.25,192.98 976.50,190.45 976.75,192.98 977.00,192.98 977.25,190.45 977.50,192.98 977.75,190.45 978.00,190.45 978.25,195.51 978.50,192.98 978.75,192.98 979.00,190.45 979.25,192.98 979.50,192.98 979.75,195.51 980.00,192.98 980.25,192.98 980.50,190.45 980.75,192.98 981.00,190.45 981.25,190.45 981.50,192.98 981.75,192.98 982.00,195.51 982.25,192.98 982.50,195.51 982.75,192.98 983.00,198.03 983.25,195.51 983.50,192.98 983.75,195.51 984.00,192.98 984.50,192.98 984.75,195.51 985.25,195.51 985.50,190.45 985.75,192.98 986.00,190.45 986.25,192.98 986.50,190.45 987.00,190.45 987.25,192.98 987.50,190.45 988.00,190.45 988.25,187.93 988.75,187.93 989.00,190.45 989.25,190.45 989.50,187.93 990.00,187.93 990.25,185.40 990.50,187.93 990.75,190.45 991.00,187.93 991.50,187.93 991.75,185.40 992.25,185.40 992.50,182.87 992.75,185.40 993.00,182.87 994.25,182.87 994.50,180.35 995.50,180.35 995.75,182.87 996.00,177.82 996.25,177.82 996.50,175.29 996.75,175.29 997.00,180.35 997.25,177.82 997.50,177.82 997.75,180.35 998.00,177.82 998.50,177.82 998.75,180.35 999.00,177.82 999.25,180.35 999.50,180.35 999.75,177.82 1000.00,180.35 1000.25,182.87 1000.50,177.82 1000.75,182.87 1001.00,180.35 1001.25,177.82 1001.50,177.82 1001.75,180.35 1002.00,182.87 1002.25,177.82 1002.50,180.35 1002.75,182.87 1003.50,182.87 1003.75,180.35 1004.00,182.87 1004.25,182.87 1004.50,180.35 1004.75,182.87 1005.00,182.87 1005.25,180.35 1006.00,180.35 1006.25,182.87 1006.50,182.87 1006.75,180.35 1008.25,180.35 1008.50,182.87 1008.75,182.87 1009.00,180.35 1009.25,182.87 1009.75,182.87 1010.00,180.35 1010.25,185.40 1010.50,182.87 1010.75,185.40 1011.25,185.40 1011.50,182.87 1011.75,187.93 1012.00,187.93 1012.25,185.40 1012.75,185.40 1013.00,187.93 1013.50,187.93 1013.75,185.40 1014.00,187.93 1014.25,187.93 1014.50,185.40 1014.75,185.40 1015.00,187.93 1015.25,187.93 1015.50,182.87 1015.75,187.93 1016.00,185.40 1016.25,187.93 1016.50,185.40 1016.75,187.93 1017.00,185.40 1017.25,185.40 1017.50,187.93 1017.75,182.87 1018.00,187.93 1018.25,187.93 1018.50,185.40 1018.75,185.40 1019.00,187.93 1019.25,185.40 1019.50,187.93 1019.75,185.40 1020.00,187.93 1020.25,187.93 1020.50,190.45 1020.75,190.45" fill="none" stroke="#0000ff" stroke-width="3.700" stroke-linejoin="round" stroke-linecap="square"/></g>
<path d="M199.5,383.5V54.0" stroke="#000" stroke-width="3" stroke-dasharray="11.562 5.000" fill="none"/>
<path d="M467.5,383.5V54.0" stroke="#000" stroke-width="3" stroke-dasharray="11.562 5.000" fill="none"/>
<path d="M736.5,383.5V54.0" stroke="#000" stroke-width="3" stroke-dasharray="11.562 5.000" fill="none"/>
<path d="M1004.5,383.5V54.0" stroke="#000" stroke-width="3" stroke-dasharray="11.562 5.000" fill="none"/>
<text x="207.97" y="86.85" xml:space="preserve" fill="#2e2e2e" style="letter-spacing:-0.257px">12/11</text>
<text x="476.03" y="86.85" xml:space="preserve" fill="#2e2e2e" style="letter-spacing:-0.232px">12/12</text>
<text x="744.99" y="86.85" xml:space="preserve" fill="#2e2e2e" style="letter-spacing:-0.213px">12/13</text>
<text x="1013.09" y="86.85" xml:space="preserve" fill="#2e2e2e" style="letter-spacing:-0.288px">12/14</text>
<g fill="#000" fill-opacity="0.835">
<rect x="187" y="384" width="2" height="6"/>
<rect x="276" y="384" width="2" height="6"/>
<rect x="365" y="384" width="2" height="6"/>
<rect x="455" y="384" width="2" height="6"/>
<rect x="544" y="384" width="2" height="6"/>
<rect x="634" y="384" width="2" height="6"/>
<rect x="723" y="384" width="2" height="6"/>
<rect x="812" y="384" width="2" height="6"/>
<rect x="902" y="384" width="2" height="6"/>
<rect x="991" y="384" width="2" height="6"/>
<rect x="1081" y="384" width="2" height="6"/>
<rect x="1170" y="384" width="2" height="6"/>
<rect x="1260" y="384" width="2" height="6"/>
<rect x="1349" y="384" width="2" height="6"/>
<rect x="181" y="382" width="6" height="2"/>
<rect x="1351" y="382" width="6" height="2"/>
<rect x="181" y="316" width="6" height="2"/>
<rect x="1351" y="316" width="6" height="2"/>
<rect x="181" y="250" width="6" height="2"/>
<rect x="1351" y="250" width="6" height="2"/>
<rect x="181" y="184" width="6" height="2"/>
<rect x="1351" y="184" width="6" height="2"/>
<rect x="181" y="119" width="6" height="2"/>
<rect x="1351" y="119" width="6" height="2"/>
<rect x="181" y="53" width="6" height="2"/>
<rect x="1351" y="53" width="6" height="2"/>
</g>
<g fill="#060606"><rect x="187" y="53" width="2" height="331"/><rect x="1349" y="53" width="2" height="331"/><rect x="187" y="53" width="1164" height="2"/><rect x="187" y="382" width="1164" height="2"/></g>
<text x="175.12" y="412.91" xml:space="preserve" style="letter-spacing:-1.022px">22</text>
<text x="271.09" y="412.91" xml:space="preserve">6</text>
<text x="352.92" y="412.91" xml:space="preserve" style="letter-spacing:-1.048px">14</text>
<text x="443.12" y="412.91" xml:space="preserve" style="letter-spacing:-0.964px">22</text>
<text x="538.96" y="412.91" xml:space="preserve">6</text>
<text x="621.95" y="412.91" xml:space="preserve" style="letter-spacing:-1.119px">14</text>
<text x="711.15" y="412.91" xml:space="preserve" style="letter-spacing:-1.022px">22</text>
<text x="807.00" y="412.91" xml:space="preserve">6</text>
<text x="889.95" y="412.91" xml:space="preserve" style="letter-spacing:-0.690px">14</text>
<text x="979.93" y="412.91" xml:space="preserve" style="letter-spacing:-0.768px">22</text>
<text x="1076.09" y="412.91" xml:space="preserve">6</text>
<text x="1157.97" y="412.91" xml:space="preserve" style="letter-spacing:-0.976px">14</text>
<text x="1247.94" y="412.91" xml:space="preserve" style="letter-spacing:-0.742px">22</text>
<text x="1343.97" y="412.91" xml:space="preserve">6</text>
<text x="606.03" y="441.41" xml:space="preserve" style="letter-spacing:-0.009px">12/10/25-12/14/25  Hours(UTC)</text>
<text transform="translate(89.35 235.00) rotate(-90)" x="-2.04" y="0" xml:space="preserve" style="letter-spacing:-1.085px">mb</text>
<text transform="translate(1448.39 310.50) rotate(-90)" x="-1.63" y="0" xml:space="preserve" style="letter-spacing:-0.014px">Inches of Mercury</text>
<text x="100.19" y="390.42" xml:space="preserve" style="letter-spacing:-0.232px">1009.0</text>
<text x="100.03" y="324.71" xml:space="preserve" style="letter-spacing:-0.175px">1011.6</text>
<text x="99.98" y="259.01" xml:space="preserve" style="letter-spacing:-0.207px">1014.2</text>
<text x="100.31" y="193.31" xml:space="preserve" style="letter-spacing:-0.233px">1016.8</text>
<text x="100.14" y="127.61" xml:space="preserve" style="letter-spacing:-0.217px">1019.4</text>
<text x="100.09" y="61.91" xml:space="preserve" style="letter-spacing:-0.235px">1022.0</text>
<text x="1365.15" y="390.42" xml:space="preserve" style="letter-spacing:-0.309px">29.8</text>
<text x="1365.03" y="324.71" xml:space="preserve" style="letter-spacing:-0.230px">29.88</text>
<text x="1365.21" y="259.01" xml:space="preserve" style="letter-spacing:-0.257px">29.95</text>
<text x="1364.93" y="193.31" xml:space="preserve" style="letter-spacing:-0.198px">30.03</text>
<text x="1365.15" y="127.61" xml:space="preserve" style="letter-spacing:-0.311px">30.11</text>
<text x="1364.97" y="61.91" xml:space="preserve" style="letter-spacing:-0.212px">30.18</text>
<rect x="188" y="11" width="425" height="36" rx="4.2" ry="4.2" fill="#fff" fill-opacity="0.8" stroke="#ccc" stroke-opacity="0.8" stroke-width="2.08"/>
<path d="M196.5,28.5H238.5" stroke="#0000ff" stroke-width="3" stroke-linecap="square" fill="none"/>
<text x="254.37" y="34.76" xml:space="preserve" style="letter-spacing:-0.015px">2m MSL Pressure</text>
<rect x="480" y="21" width="42" height="14" fill="#d3d3d3" fill-opacity="0.5" stroke="#d3d3d3" stroke-opacity="0.5" stroke-width="2"/>
<text x="538.84" y="34.76" xml:space="preserve" style="letter-spacing:0.004px">NIGHT</text>
</svg>
</body></html>
